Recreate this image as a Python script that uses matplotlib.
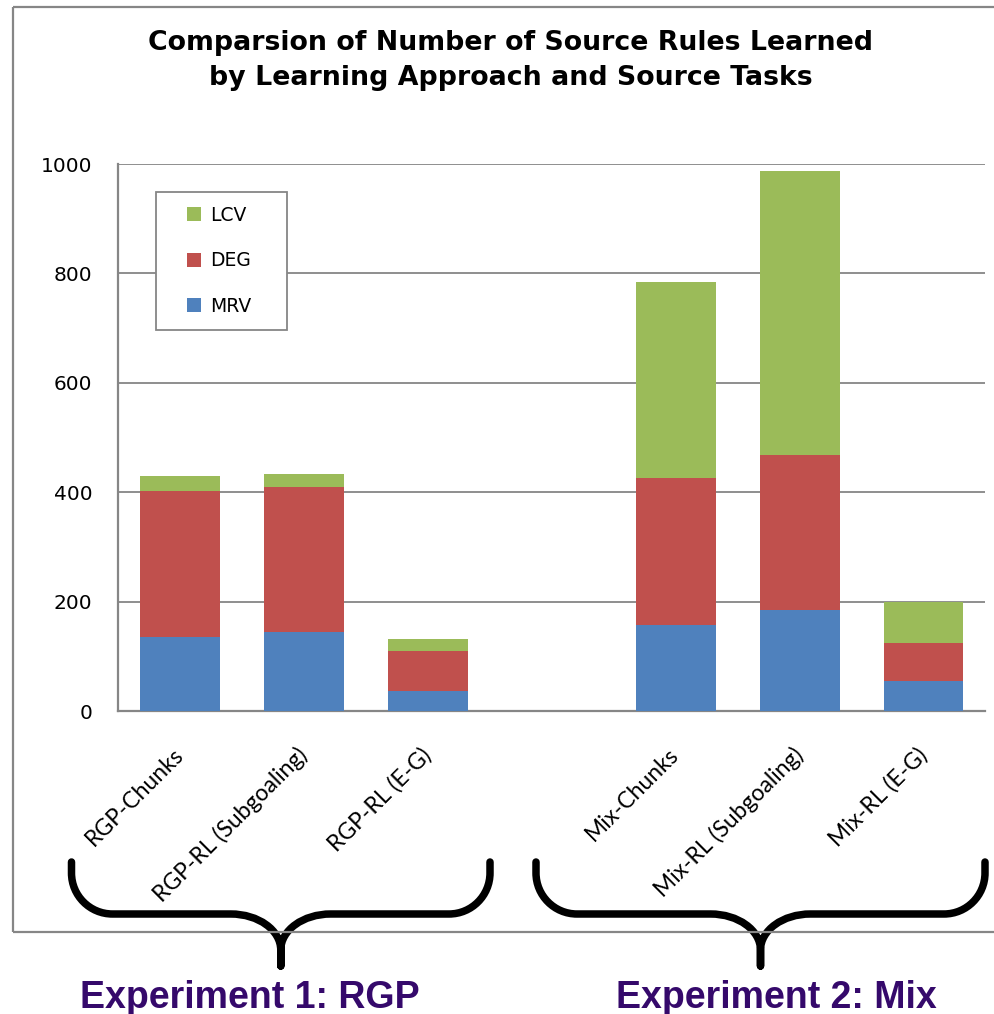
import matplotlib
matplotlib.use("Agg")
import matplotlib.pyplot as plt
from matplotlib.lines import Line2D
from matplotlib.path import Path
from matplotlib.patches import PathPatch
import numpy as np

# ---- data -------------------------------------------------------------
groups = ["Experiment 1: RGP", "Experiment 2: Mix"]
categories = [
    ["RGP-Chunks", "RGP-RL (Subgoaling)", "RGP-RL (E-G)"],
    ["Mix-Chunks", "Mix-RL (Subgoaling)", "Mix-RL (E-G)"],
]
series_names = ["MRV", "DEG", "LCV"]
mrv = [135, 145, 37, 157, 185, 56]
deg = [267, 264, 73, 269, 283, 68]
lcv = [28, 25, 23, 359, 519, 76]
yticks = [0, 200, 400, 600, 800, 1000]

colors = {"MRV": "#4F81BD", "DEG": "#C0504D", "LCV": "#9BBB59"}
grey = "#868686"
purple = "#35096B"

W, H = 995, 1014
fig = plt.figure(figsize=(W / 100, H / 100), dpi=100)


def px(x, y):
    """pixel position (origin top-left) -> figure fraction"""
    return x / W, 1 - y / H


# ---- bar positions: one empty slot between the two groups --------------
positions, labels = [], []
for gi, cats in enumerate(categories):
    for ci, c in enumerate(cats):
        positions.append(gi * (len(cats) + 1) + ci)
        labels.append(c)
positions = np.array(positions)
n_slots = positions.max() + 1

ax = fig.add_axes([118 / W, 1 - 711.3 / H, 867.5 / W, 547.3 / H])

bar_w = 0.644
bottom = np.zeros(len(mrv))
handles = {}
for name, vals in zip(series_names, [mrv, deg, lcv]):
    ax.bar(positions, vals, bar_w, bottom=bottom, color=colors[name],
           linewidth=0, zorder=3)
    bottom += np.array(vals)
    handles[name] = Line2D([], [], linestyle="none", marker="s",
                           markersize=10.5, markerfacecolor=colors[name],
                           markeredgewidth=0)

ax.set_xlim(-0.5, n_slots - 0.5)
ax.set_ylim(0, 1000)
ax.set_yticks(yticks)
ax.set_yticklabels([str(v) for v in yticks], fontsize=14.5,
                   family="DejaVu Sans")
ax.tick_params(axis="y", length=0, pad=18.5)

ax.set_xticks(positions)
ax.set_xticklabels(labels, rotation=45, ha="right", va="center",
                   rotation_mode="anchor", fontsize=16.5, family="Lato")
ax.tick_params(axis="x", length=0, pad=29)

ax.yaxis.grid(True, color=grey, linewidth=1.3, zorder=0)
ax.set_axisbelow(True)
for s in ["top", "right"]:
    ax.spines[s].set_visible(False)
for s in ["left", "bottom"]:
    ax.spines[s].set_color(grey)
    ax.spines[s].set_linewidth(1.6)

# legend, stacked order from top
lx0, ly0 = px(156, 330)
lx1, ly1 = px(287, 191)
leg = fig.legend([handles[n] for n in ["LCV", "DEG", "MRV"]],
                 ["LCV", "DEG", "MRV"], loc="lower left",
                 bbox_to_anchor=(lx0, ly0, lx1 - lx0, ly1 - ly0),
                 mode="expand", borderaxespad=0,
                 prop={"family": "DejaVu Sans", "size": 13.5},
                 fancybox=False, edgecolor=grey, framealpha=1,
                 borderpad=0.75, labelspacing=1.42, handlelength=2.6,
                 handletextpad=-0.45)
leg.get_frame().set_linewidth(1.3)

# ---- title ---------------------------------------------------------------
tx, ty = px(511, 50)
fig.text(tx, ty, "Comparsion of Number of Source Rules Learned",
         ha="center", va="baseline", fontsize=19.3, fontweight="bold",
         family="DejaVu Sans")
tx, ty = px(511, 85)
fig.text(tx, ty, "by Learning Approach and Source Tasks",
         ha="center", va="baseline", fontsize=19.3, fontweight="bold",
         family="DejaVu Sans")

# ---- outer chart frame -------------------------------------------------
frame_kw = dict(color=grey, linewidth=1.6, solid_capstyle="butt")
for (xa, ya), (xb, yb) in [((12.5, 7), (12.5, 932)),
                           ((12.5, 7), (W, 7)),
                           ((12.5, 932), (W, 932))]:
    (fa, ga), (fb, gb) = px(xa, ya), px(xb, yb)
    fig.add_artist(Line2D([fa, fb], [ga, gb], **frame_kw))


# ---- group braces ------------------------------------------------------
def brace(x0, x1, ytop, yh, ytip, r=41, rx=50, ry=36):
    mid = (x0 + x1) / 2
    k = 0.552
    pts = [
        (x0, ytop), (x0, yh - r),
        (x0, yh - r + k * r), (x0 + r - k * r, yh), (x0 + r, yh),
        (mid - rx, yh),
        (mid - rx + k * rx, yh), (mid, yh + ry - k * ry), (mid, yh + ry),
        (mid, ytip),
        (mid, yh + ry),
        (mid, yh + ry - k * ry), (mid + rx - k * rx, yh), (mid + rx, yh),
        (x1 - r, yh),
        (x1 - r + k * r, yh), (x1, yh - r + k * r), (x1, yh - r),
        (x1, ytop),
    ]
    codes = [Path.MOVETO, Path.LINETO,
             Path.CURVE4, Path.CURVE4, Path.CURVE4,
             Path.LINETO,
             Path.CURVE4, Path.CURVE4, Path.CURVE4,
             Path.LINETO, Path.LINETO,
             Path.CURVE4, Path.CURVE4, Path.CURVE4,
             Path.LINETO,
             Path.CURVE4, Path.CURVE4, Path.CURVE4,
             Path.LINETO]
    verts = [px(x, y) for x, y in pts]
    patch = PathPatch(Path(verts, codes), transform=fig.transFigure,
                      fill=False, edgecolor="black", linewidth=5.4,
                      capstyle="round", joinstyle="round")
    fig.add_artist(patch)
    return mid


brace_spans = [(71.5, 490), (536, 985)]
label_x = [249.5, 776]
for (b0, b1), gx, gname in zip(brace_spans, label_x, groups):
    brace(b0, b1, 862, 914, 966)
    fx, fy = px(gx, 1008)
    fig.text(fx, fy, gname, ha="center", va="baseline", fontsize=27,
             fontweight="bold", family="Liberation Sans", color=purple)

fig.savefig("out.png", dpi=100, facecolor="white")
